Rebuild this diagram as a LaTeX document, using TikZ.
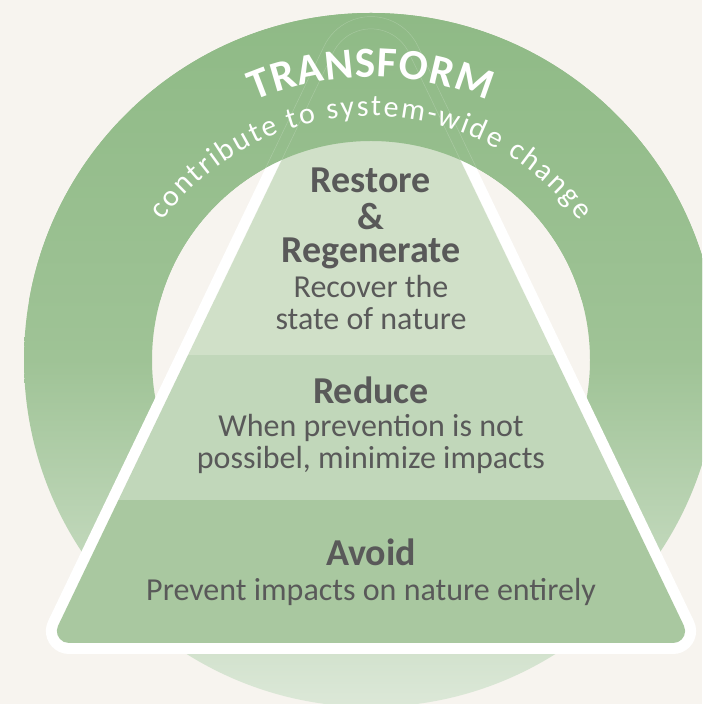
\documentclass[tikz,border=0pt]{standalone}
\usepackage{fontspec}
\setmainfont{Carlito}
\usetikzlibrary{decorations.text}
\definecolor{bg}{HTML}{F7F4EF}
\definecolor{ringtop}{HTML}{8FBA86}
\definecolor{ringmid}{HTML}{9FC396}
\definecolor{ringbot}{HTML}{DCE8D8}
\definecolor{layA}{HTML}{D0E0C8}
\definecolor{layB}{HTML}{C1D7BA}
\definecolor{layC}{HTML}{A9C8A0}
\definecolor{txtgray}{HTML}{595959}
% rounded triangle: #1 apex y, #2 base y, #3 apex radius, #4 base radius
\newcommand{\rtri}[4]{%
 ({371-0.48*(#1-#2)+#4/tan(32.18)}, #2) -- ({371+0.48*(#1-#2)-#4/tan(32.18)}, #2)
 arc[start angle=-90, end angle=25.64, radius=#4]
 -- ({371+#3*cos(25.64)}, {#1-#3/sin(25.64)+#3*sin(25.64)})
 arc[start angle=25.64, end angle=154.36, radius=#3]
 -- ({371-0.48*(#1-#2)+#4/tan(32.18)+#4*cos(154.36)}, {#2+#4+#4*sin(154.36)})
 arc[start angle=154.36, end angle=270, radius=#4] -- cycle}
\newcommand{\ringpath}{(371,344) circle[radius=347] (371,344) circle[radius=219]}
\newcommand{\tfA}{\color{white}\fontsize{43}{43}\selectfont\bfseries}
\newcommand{\tfB}{\color{white}\fontsize{30}{30}\selectfont}
\tikzset{
 ringfill/.style={even odd rule, top color=ringtop, bottom color=ringbot, middle color=ringmid},
 head/.style={font=\fontsize{38}{40}\selectfont\bfseries, text=txtgray, anchor=base, inner sep=0pt},
 body/.style={font=\fontsize{32}{34}\selectfont, text=txtgray, anchor=base, inner sep=0pt},
 faint/.style={draw=white, opacity=0.2, line width=0.5pt}
}
\begin{document}
\begin{tikzpicture}[x=1pt,y=1pt]
\useasboundingbox (0,0) rectangle (702,704);
\clip (0,0) rectangle (702,704);
\fill[bg] (0,0) rectangle (702,704);
\coordinate (C) at (371,344);
% ring
\path[ringfill] \ringpath;
% pyramid
\fill[white] \rtri{755.6}{50}{52}{23};
\begin{scope}
 \clip \rtri{730.2}{61}{42}{12};
 \fill[layA] (0,349) rectangle (702,704);
 \fill[layB] (0,204) rectangle (702,349);
 \fill[layC] (0,0) rectangle (702,204);
\end{scope}
% ring top over the pyramid
\begin{scope}
 \clip (0,404) rectangle (702,704);
 \path[ringfill] \ringpath;
 \draw[faint] \rtri{755.6}{50}{52}{23};
 \draw[faint] \rtri{730.2}{61}{42}{12};
\end{scope}
% arc texts
\path[shift={(371,329)}, decorate, decoration={text along path, text align=fit to path, text={|\tfA|TRANSFORM}}]
 (113:298) arc[start angle=113, end angle=67, radius=298];
\path[shift={(371,329)}, decorate, decoration={text along path, text align=fit to path, text={|\tfB|contribute to system-wide change}}]
 (143.5:259) arc[start angle=143.5, end angle=36.5, radius=259];
% texts
\node[head] (restore) at (371,511) {Restore};
\node[head] (amp) at (371,474) {\&};
\node[head] (regen) at (371,441) {Regenerate};
\node[body] (rec1) at (371,406) {Recover the};
\node[body] (rec2) at (371,374) {state of nature};
\node[head] (reduce) at (371,300) {Reduce};
\node[body] (red1) at (371,267) {When prevention is not};
\node[body] (red2) at (371,235) {possibel, minimize impacts};
\node[head] (avoid) at (371,138) {Avoid};
\node[body] (av1) at (371,103) {Prevent impacts on nature entirely};
\end{tikzpicture}
\end{document}
